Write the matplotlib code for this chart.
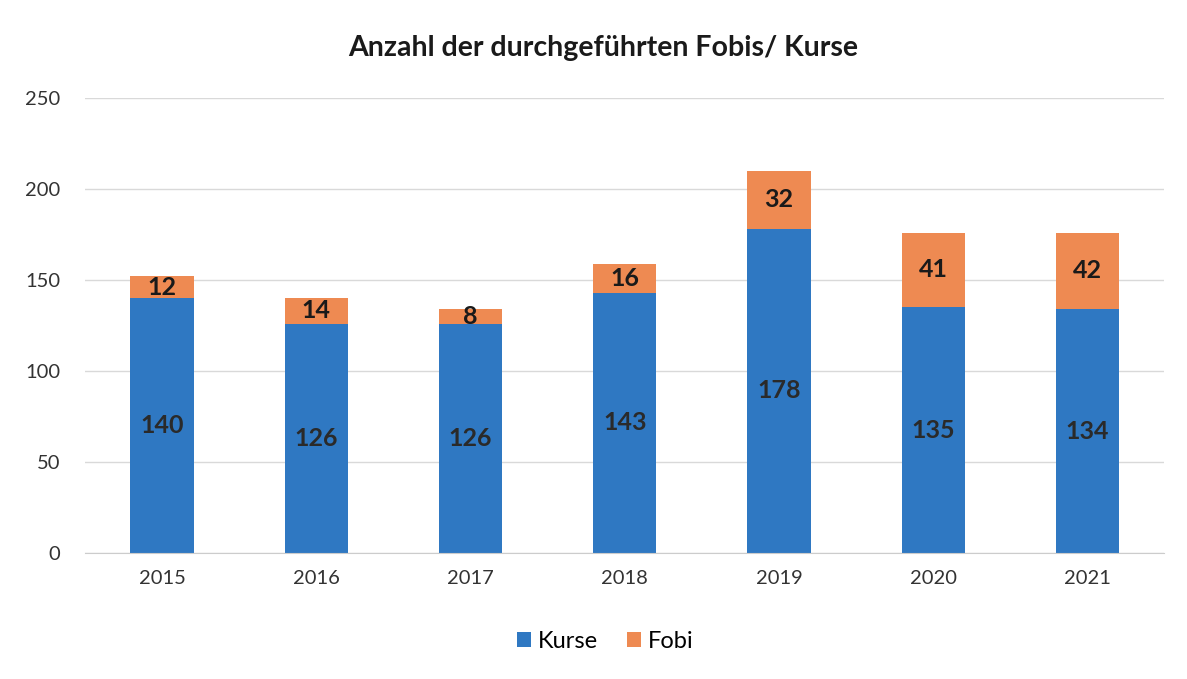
import matplotlib.pyplot as plt
import numpy as np

years = ["2015", "2016", "2017", "2018", "2019", "2020", "2021"]
kurse = [140, 126, 126, 143, 178, 135, 134]
fobi = [12, 14, 8, 16, 32, 41, 42]

plt.rcParams['font.family'] = ['Lato', 'DejaVu Sans']

blue = "#2F78C2"
orange = "#EE8A52"

fig = plt.figure(figsize=(11.87, 6.79), dpi=100)
ax = fig.add_axes([0.0716, 0.1856, 0.9094, 0.6701])

x = np.arange(len(years))
w = 0.41
b1 = ax.bar(x, kurse, w, color=blue, label="Kurse", zorder=2)
b2 = ax.bar(x, fobi, w, bottom=kurse, color=orange, label="Fobi", zorder=2)

for i in range(len(years)):
    ax.text(x[i], kurse[i] / 2, str(kurse[i]), ha="center", va="center",
            fontsize=18, color="#2a2a2a", fontweight="bold")
    ax.text(x[i], kurse[i] + fobi[i] / 2, str(fobi[i]), ha="center", va="center",
            fontsize=18, color="#1a1a1a", fontweight="bold")

ax.set_xlim(-0.5, len(years) - 0.5)
ax.set_ylim(0, 250)
ax.set_yticks(range(0, 251, 50))
ax.set_xticks(x)
ax.set_xticklabels(years)
ax.tick_params(axis="both", length=0, labelsize=14.5, colors="#333333")
ax.tick_params(axis="y", pad=18)
ax.tick_params(axis="x", pad=12)
ax.grid(axis="y", color="#d9d9d9", linewidth=1, zorder=0)
for s in ax.spines.values():
    s.set_visible(False)
ax.spines["bottom"].set_visible(True)
ax.spines["bottom"].set_color("#cccccc")

fig.text(0.508, 0.93, "Anzahl der durchgeführten Fobis/ Kurse", ha="center", va="center",
         fontsize=20.5, fontweight="bold", color="#1a1a1a")

fig.legend(handles=[b1, b2], labels=["Kurse", "Fobi"], loc="center",
           bbox_to_anchor=(0.51, 0.055), ncol=2, frameon=False, fontsize=17,
           handlelength=0.6, handleheight=0.6, handletextpad=0.3, columnspacing=1.2)

fig.savefig("out.png", dpi=100)
